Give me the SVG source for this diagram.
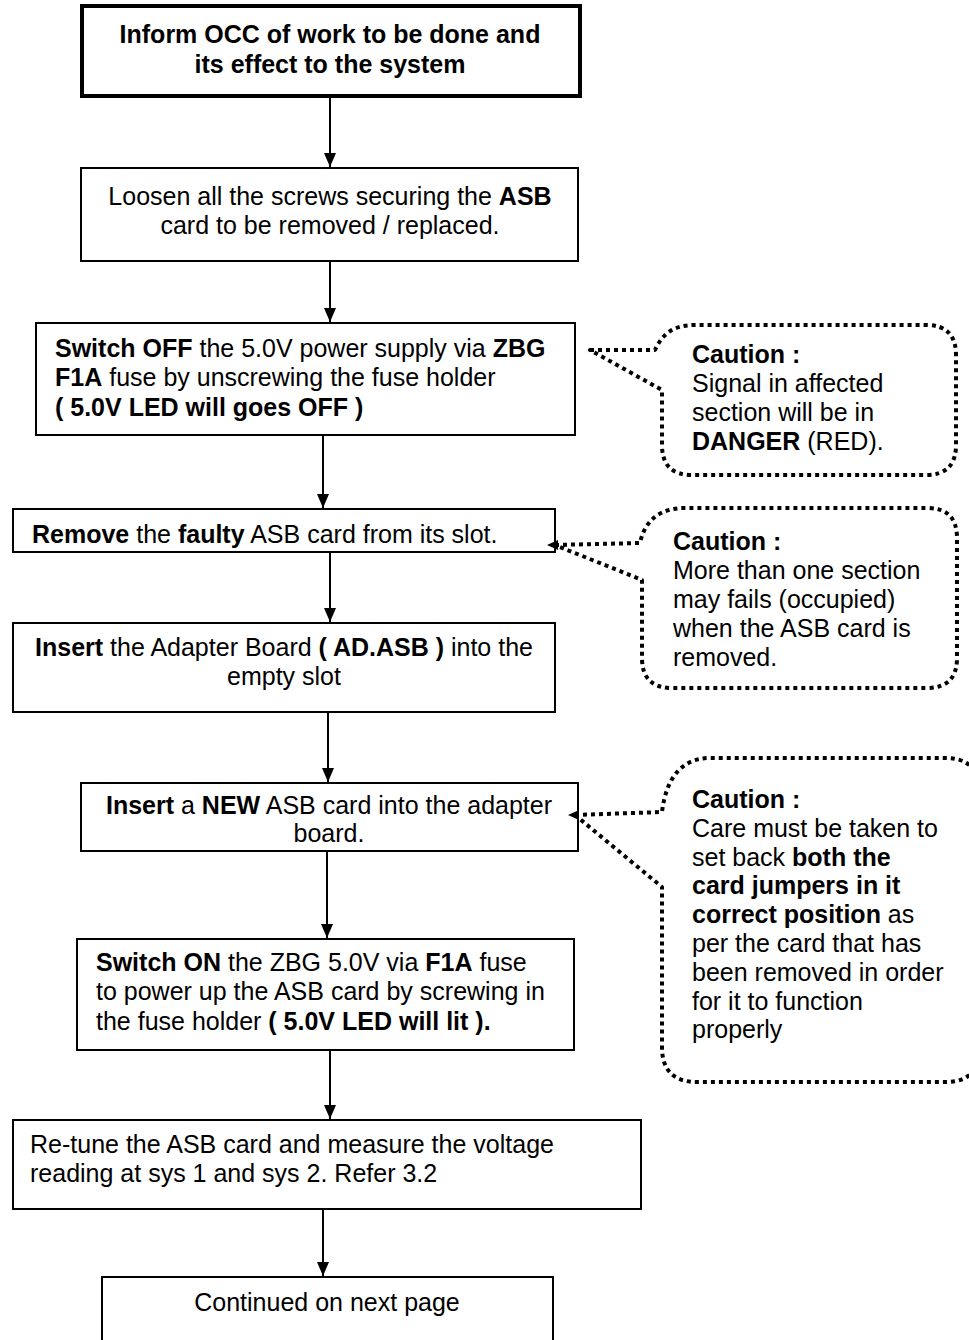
<svg xmlns="http://www.w3.org/2000/svg" width="969" height="1340" viewBox="0 0 969 1340">
  <style>
    text { font-family: "Liberation Sans", Arial, sans-serif; font-size: 25px; fill: #000; }
    .c { text-anchor: middle; }
    .b { font-weight: bold; }
    .box { fill: #fff; stroke: #000; stroke-width: 2; }
    .thick { stroke-width: 4; }
    .flow { stroke: #000; stroke-width: 2; fill: none; marker-end: url(#arrow); }
    .callout { fill: #fff; stroke: #000; stroke-width: 4; stroke-dasharray: 4 4; stroke-linejoin: round; }
  </style>
  <defs>
    <marker id="arrow" viewBox="0 0 14 12" refX="14" refY="6" markerWidth="14" markerHeight="12" markerUnits="userSpaceOnUse" orient="auto">
      <path d="M0,0 L14,6 L0,12 Z" fill="#000"/>
    </marker>
  </defs>
  <rect width="969" height="1340" fill="#fff"/>

  <!-- connectors between steps -->
  <g id="connectors">
    <line class="flow" x1="330" y1="98" x2="330" y2="167"/>
    <line class="flow" x1="330" y1="261" x2="330" y2="322"/>
    <line class="flow" x1="323" y1="435" x2="323" y2="508"/>
    <line class="flow" x1="330" y1="552" x2="330" y2="622"/>
    <line class="flow" x1="328" y1="712" x2="328" y2="782"/>
    <line class="flow" x1="327" y1="851" x2="327" y2="938"/>
    <line class="flow" x1="330" y1="1050" x2="330" y2="1119"/>
    <line class="flow" x1="323" y1="1209" x2="323" y2="1276"/>
  </g>

  <g id="step-inform">
    <rect class="box thick" x="82" y="6" width="498" height="90"/>
    <text class="c b" x="330" y="43">Inform OCC of work to be done and</text>
    <text class="c b" x="330" y="73">its effect to the system</text>
  </g>

  <g id="step-loosen">
    <rect class="box" x="81" y="168" width="497" height="93"/>
    <text class="c" x="330" y="205">Loosen all the screws securing the <tspan class="b">ASB</tspan></text>
    <text class="c" x="330" y="234">card to be removed / replaced.</text>
  </g>

  <g id="step-switch-off">
    <rect class="box" x="36" y="323" width="539" height="112"/>
    <text x="55" y="357"><tspan class="b">Switch OFF</tspan> the 5.0V power supply via <tspan class="b">ZBG</tspan></text>
    <text x="55" y="386"><tspan class="b">F1A</tspan> fuse by unscrewing the fuse holder</text>
    <text class="b" x="55" y="416">( 5.0V LED will goes OFF )</text>
  </g>

  <g id="step-remove">
    <rect class="box" x="13" y="509" width="542" height="43"/>
    <text x="32" y="543"><tspan class="b">Remove</tspan> the <tspan class="b">faulty</tspan> ASB card from its slot.</text>
  </g>

  <g id="step-adapter">
    <rect class="box" x="13" y="623" width="542" height="89"/>
    <text class="c" x="284" y="656"><tspan class="b">Insert</tspan> the Adapter Board <tspan class="b">( AD.ASB )</tspan> into the</text>
    <text class="c" x="284" y="685">empty slot</text>
  </g>

  <g id="step-new-card">
    <rect class="box" x="81" y="783" width="497" height="68"/>
    <text class="c" x="329" y="814"><tspan class="b">Insert</tspan> a <tspan class="b">NEW</tspan> ASB card into the adapter</text>
    <text class="c" x="329" y="842">board.</text>
  </g>

  <g id="step-switch-on">
    <rect class="box" x="77" y="939" width="497" height="111"/>
    <text x="96" y="971"><tspan class="b">Switch ON</tspan> the ZBG 5.0V via <tspan class="b">F1A</tspan> fuse</text>
    <text x="96" y="1000">to power up the ASB card by screwing in</text>
    <text x="96" y="1030">the fuse holder <tspan class="b">( 5.0V LED will lit ).</tspan></text>
  </g>

  <g id="step-retune">
    <rect class="box" x="13" y="1120" width="628" height="89"/>
    <text x="30" y="1153">Re-tune the ASB card and measure the voltage</text>
    <text x="30" y="1182">reading at sys 1 and sys 2. Refer 3.2</text>
  </g>

  <g id="step-continued">
    <rect class="box" x="102" y="1277" width="451" height="80"/>
    <text class="c" x="327" y="1311">Continued on next page</text>
  </g>

  <g id="caution-danger">
    <path class="callout" d="M590,350 L655,350 C662,335 672,325 695,325 L926,325 Q956,325 956,355 L956,445 Q956,475 926,475 L692,475 Q662,475 662,445 L662,390 Z"/>
    <text class="b" x="692" y="363">Caution :</text>
    <text x="692" y="392">Signal in affected</text>
    <text x="692" y="421">section will be in</text>
    <text x="692" y="450"><tspan class="b">DANGER</tspan> (RED).</text>
  </g>

  <g id="caution-occupied">
    <path class="callout" d="M555,545 L640,543 C645,520 660,508 685,508 L927,508 Q957,508 957,538 L957,658 Q957,688 927,688 L672,688 Q642,688 642,658 L642,580 Z"/>
    <path d="M547,545 L558,540 L558,550 Z" fill="#000"/>
    <text class="b" x="673" y="550">Caution :</text>
    <text x="673" y="579">More than one section</text>
    <text x="673" y="608">may fails (occupied)</text>
    <text x="673" y="637">when the ASB card is</text>
    <text x="673" y="666">removed.</text>
  </g>

  <g id="caution-jumpers">
    <path class="callout" d="M575,815 L662,812 C666,780 680,758 710,758 L945,758 Q980,758 980,793 L980,1048 Q980,1082 945,1082 L697,1082 Q662,1082 662,1047 L662,887 Z"/>
    <path d="M568,815 L579,810 L579,820 Z" fill="#000"/>
    <text class="b" x="692" y="808">Caution :</text>
    <text x="692" y="837">Care must be taken to</text>
    <text x="692" y="866">set back <tspan class="b">both the</tspan></text>
    <text class="b" x="692" y="894">card jumpers in it</text>
    <text x="692" y="923"><tspan class="b">correct position</tspan> as</text>
    <text x="692" y="952">per the card that has</text>
    <text x="692" y="981">been removed in order</text>
    <text x="692" y="1010">for it to function</text>
    <text x="692" y="1038">properly</text>
  </g>
</svg>
